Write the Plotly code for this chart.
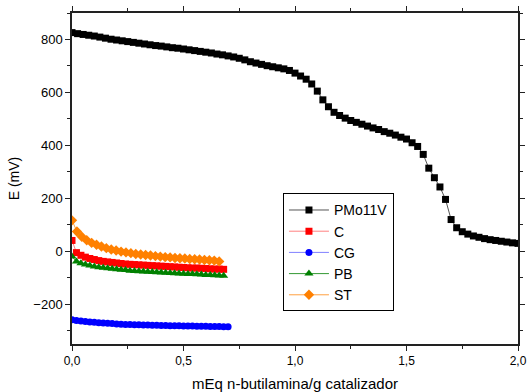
import plotly.graph_objects as go

# PMo11V titration curve (x step 0.025)
pmo_x = [i * 0.025 for i in range(81)]
pmo_y = [826, 822, 819, 816, 813, 809, 805, 801, 798, 795,
         792, 789, 786, 783, 780, 777, 775, 772, 769, 767,
         764, 761, 758, 755, 752, 749, 745, 742, 738, 734,
         729, 723, 716, 711, 706, 701, 697, 693, 689, 683,
         673, 662, 650, 632, 605, 572, 546, 525, 513, 503,
         494, 487, 480, 473, 466, 460, 452, 446, 439, 431,
         424, 410, 396, 366, 314, 278, 243, 196, 120, 89,
         74, 65, 58, 53, 48, 44, 41, 38, 35, 32, 30]

c_x = [i * 0.02 for i in range(35)]
c_y = [41, -5, -15, -22, -27, -31, -35, -38, -40, -42,
       -44, -46, -48, -49, -50, -51, -52, -53, -54, -55,
       -56, -57, -58, -59, -60, -61, -62, -63, -63, -64,
       -65, -66, -67, -67, -68]

cg_x = [i * 0.02 for i in range(36)]
cg_y = [-258, -261, -263, -265, -267, -268, -270, -271, -272, -273,
        -274, -275, -276, -276, -277, -277, -278, -278, -279, -279,
        -280, -280, -281, -281, -281, -282, -282, -282, -283, -283,
        -283, -284, -284, -284, -285, -285]

pb_x = [i * 0.02 for i in range(35)]
pb_y = [-20, -38, -45, -50, -54, -57, -60, -62, -64, -66,
        -68, -70, -71, -73, -74, -75, -76, -77, -78, -79,
        -80, -81, -82, -83, -84, -85, -86, -86, -87, -88,
        -89, -89, -90, -91, -92]

st_x = [i * 0.022 for i in range(31)]
st_y = [117, 75, 55, 42, 32, 25, 18, 12, 7, 3,
        -1, -4, -7, -10, -12, -14, -16, -18, -20, -22,
        -23, -25, -26, -27, -29, -30, -31, -33, -34, -35, -38]

series = [
    ("PMo11V", pmo_x, pmo_y, "black", "#555555", "square", 7),
    ("C", c_x, c_y, "#FF0000", "#FF8080", "square", 7),
    ("CG", cg_x, cg_y, "#0000FF", "#8080FF", "circle", 7),
    ("PB", pb_x, pb_y, "#008000", "#339933", "triangle-up", 8),
    ("ST", st_x, st_y, "#FF8000", "#FFA040", "diamond", 8),
]

fig = go.Figure()
for name, x, y, mc, lc, sym, sz in series:
    fig.add_trace(go.Scatter(
        x=x, y=y, name=name, mode="lines+markers",
        line=dict(color=lc, width=1),
        marker=dict(color=mc, symbol=sym, size=sz, line=dict(width=0)),
    ))

font_family = "Liberation Sans, Arial, sans-serif"
axis_common = dict(
    showline=True, linecolor="#222222", linewidth=1.5, mirror="allticks",
    ticks="outside", ticklen=5, tickwidth=1, tickcolor="#222222",
    showgrid=False, zeroline=False, automargin=False,
)

fig.update_xaxes(
    range=[0, 2.0], tick0=0, dtick=0.5, tickformat=".1f",
    ticklabeloverflow="allow",
    tickfont=dict(family=font_family, size=12, color="black"),
    minor=dict(ticks="outside", ticklen=3, dtick=0.25, tickcolor="#222222", showgrid=False),
    title=dict(text="mEq n-butilamina/g catalizador",
               font=dict(family=font_family, size=15, color="black"), standoff=14),
    **axis_common,
)
fig.update_yaxes(
    range=[-350, 900], tick0=-200, dtick=200,
    tickfont=dict(family=font_family, size=13, color="black"),
    minor=dict(ticks="outside", ticklen=3, dtick=100, tickcolor="#222222", showgrid=False),
    title=dict(text="E (mV)", font=dict(family=font_family, size=14, color="black"), standoff=10),
    **axis_common,
)

fig.update_layout(
    width=527, height=392,
    margin=dict(l=72, r=9, t=13, b=48),
    paper_bgcolor="white", plot_bgcolor="white",
    separators=",.",
    font=dict(family=font_family, color="black"),
    legend=dict(
        x=0.473, y=0.455, xanchor="left", yanchor="top",
        bgcolor="white", bordercolor="black", borderwidth=1,
        font=dict(family=font_family, size=14, color="black"),
        tracegroupgap=0, itemwidth=40,
    ),
)

# remove the browser's default body margin so the figure fills the window
fig.write_html(
    "out.html",
    config={"displayModeBar": False},
    post_script="document.body.style.margin='0';document.body.style.overflow='hidden';",
)
